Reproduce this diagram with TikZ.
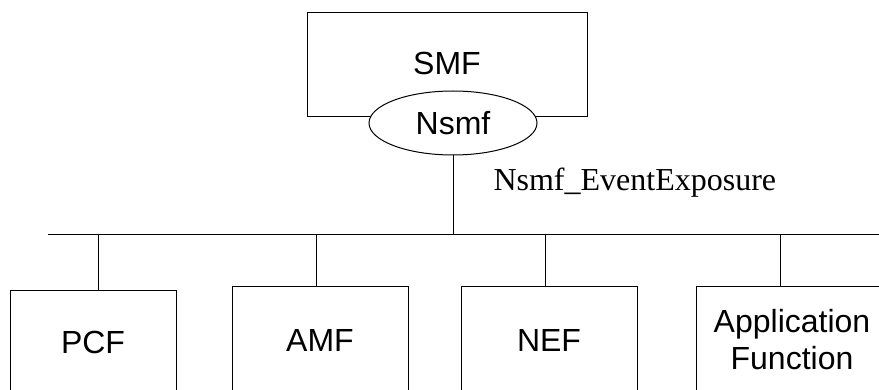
\documentclass[tikz,border=0pt]{standalone}
\usepackage{fontspec}
\setmainfont{Liberation Sans}
\newfontfamily\timesfont{Liberation Serif}
\usetikzlibrary{shapes.geometric}
\begin{document}
\begin{tikzpicture}[x=1pt,y=-1pt,
  line width=1pt,
  nfbox/.style={draw=black, fill=white, rectangle, inner sep=0pt, font=\fontsize{32}{37}\selectfont, align=center},
  svcell/.style={draw=black, fill=white, ellipse, inner sep=0pt, minimum width=168pt, minimum height=64pt, font=\fontsize{32}{37}\selectfont},
  wire/.style={draw=black, line width=1pt}]
\useasboundingbox (0,0) rectangle (879,390);
\clip (0,0) rectangle (879,390);
% SMF
\node[nfbox, minimum width=280pt, minimum height=104pt] (smf) at (447,65) {};
\node[font=\fontsize{32}{37}\selectfont, inner sep=0pt] (smft) at (447,63) {SMF};
\node[svcell] (nsmf) at (453,123) {Nsmf};
% bus
\coordinate (busL) at (48,235);
\coordinate (busR) at (890,235);
\coordinate (busS) at (453,235);
\draw[wire] (busL) -- (busR);
\draw[wire] (nsmf.south) -- (busS);
\node[anchor=base west, inner sep=0pt, font=\timesfont\fontsize{32}{37}\selectfont] (lbl) at (493,191) {Nsmf\_EventExposure};
% consumers
\node[nfbox, minimum width=166pt, minimum height=102pt] (pcf) at (93,342) {PCF};
\node[nfbox, minimum width=176pt, minimum height=106pt] (amf) at (320,340) {AMF};
\node[nfbox, minimum width=176pt, minimum height=106pt] (nef) at (549,340) {NEF};
\node[nfbox, minimum width=192pt, minimum height=106pt] (af) at (792,340) {Application\\Function};
\coordinate (d1) at (98,235);
\coordinate (d2) at (316,235);
\coordinate (d3) at (545,235);
\coordinate (d4) at (780,235);
\draw[wire] (d1) -- (d1 |- pcf.north);
\draw[wire] (d2) -- (d2 |- amf.north);
\draw[wire] (d3) -- (d3 |- nef.north);
\draw[wire] (d4) -- (d4 |- af.north);
\end{tikzpicture}
\end{document}
